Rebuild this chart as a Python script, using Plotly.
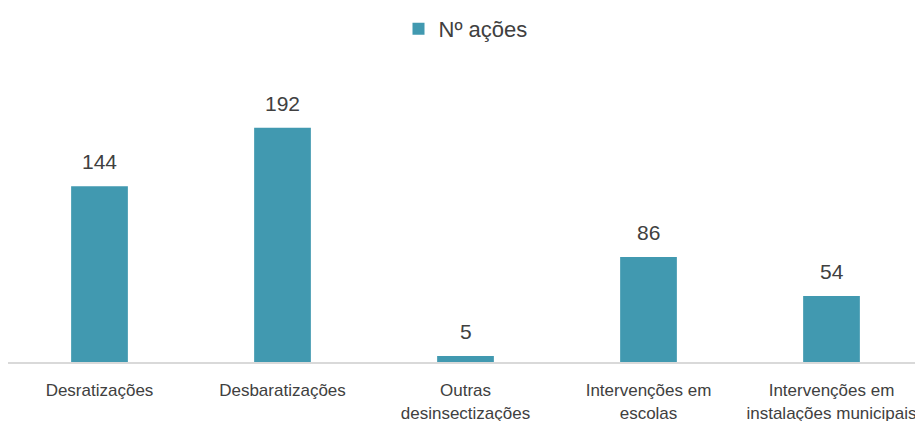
import plotly.graph_objects as go

categories = ["Desratizações", "Desbaratizações", "Outras<br>desinsectizações",
              "Intervenções em<br>escolas", "Intervenções em<br>instalações municipais"]
values = [144, 192, 5, 86, 54]
series_name = "Nº ações"

FONT = "Liberation Sans Narrow, Arial Narrow, Liberation Sans, Arial, sans-serif"
BAR = "#4199b0"
TXT = "#404040"

fig = go.Figure()
fig.add_trace(go.Bar(x=categories, y=values, name=series_name, marker_color=BAR,
                     marker_line_width=0, showlegend=True))

for c, v in zip(categories, values):
    fig.add_annotation(x=c, y=v, text=str(v), showarrow=False, yanchor="bottom",
                       yshift=11, font=dict(family=FONT, size=21, color=TXT))

# page body has an 8px default margin, so the figure is sized to fit the window
fig.update_layout(
    width=915, height=413,
    margin=dict(l=0, r=0, t=49, b=59, autoexpand=False),
    paper_bgcolor="white", plot_bgcolor="white",
    bargap=0.69,
    font=dict(family=FONT, color=TXT),
    legend=dict(orientation="h", x=0.5, xanchor="center", y=1.0, yanchor="top",
                yref="container", font=dict(size=22, color=TXT), itemwidth=30),
    xaxis=dict(showgrid=False, showline=True, linecolor="#d9d9d9", linewidth=2,
               ticks="", tickfont=dict(size=17, color=TXT), ticklabelstandoff=12,
               automargin=False),
    yaxis=dict(visible=False, range=[0, 250], automargin=False),
)
fig.write_html("out.html")
